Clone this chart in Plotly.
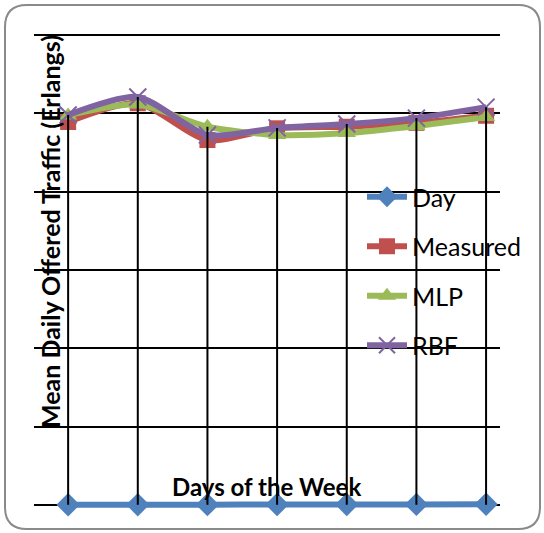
import plotly.graph_objects as go

# Mean daily offered traffic (Erlangs) per day of the week
days = [1, 2, 3, 4, 5, 6, 7]
day_series = [1, 2, 3, 4, 5, 6, 7]
measured = [4890, 5130, 4660, 4810, 4830, 4880, 4970]
mlp = [4975, 5115, 4830, 4725, 4750, 4840, 4955]
rbf = [4980, 5210, 4725, 4815, 4865, 4940, 5080]

W, H = 544, 533
L, R, T, B = 34, 44, 32, 25
pw, ph = W - L - R, H - T - B


def px(x):
    return (x - L) / pw


def py(y):
    return (H - B - y) / ph


fig = go.Figure()

series = [
    ("Day", day_series, "#4F81BD", dict(symbol="diamond", size=18)),
    ("Measured", measured, "#C0504D", dict(symbol="square", size=16)),
    ("MLP", mlp, "#9BBB59", dict(symbol="triangle-up", size=16)),
    ("RBF", rbf, "#8064A2", dict(symbol="x-thin-open", size=17, line=dict(width=2, color="#8064A2"))),
]

for name, vals, color, mk in series:
    fig.add_trace(go.Scatter(
        x=days, y=vals, name=name, mode="lines+markers",
        line=dict(color=color, width=6, shape="spline", smoothing=0.7),
        marker=dict(color=color, **mk),
        legendgroup=name, cliponaxis=False,
    ))

# drop lines from the highest series down to the axis
tops = [max(v) for v in zip(day_series, measured, mlp, rbf)]
dx, dy = [], []
for d, t in zip(days, tops):
    dx += [d, d, None]
    dy += [0, t, None]
fig.add_trace(go.Scatter(x=dx, y=dy, mode="lines", line=dict(color="black", width=2),
                         showlegend=False, hoverinfo="skip", cliponaxis=False))

# rounded chart border
x0, y0, x1, y1, r = 5, 5, 540, 529, 22
path = (
    f"M {px(x0 + r)},{py(y0)} L {px(x1 - r)},{py(y0)} "
    f"Q {px(x1)},{py(y0)} {px(x1)},{py(y0 + r)} "
    f"L {px(x1)},{py(y1 - r)} Q {px(x1)},{py(y1)} {px(x1 - r)},{py(y1)} "
    f"L {px(x0 + r)},{py(y1)} Q {px(x0)},{py(y1)} {px(x0)},{py(y1 - r)} "
    f"L {px(x0)},{py(y0 + r)} Q {px(x0)},{py(y0)} {px(x0 + r)},{py(y0)} Z"
)
fig.add_shape(type="path", path=path, xref="paper", yref="paper",
              line=dict(color="#8a8a8a", width=2), layer="below")

fig.add_annotation(text="<b>Mean Daily Offered Traffic (Erlangs)</b>", textangle=-90,
                   x=px(50), y=py(232), xref="paper", yref="paper", showarrow=False,
                   xanchor="center", yanchor="middle",
                   font=dict(family="Lato", size=25, color="black"))
fig.add_annotation(text="<b>Days of the Week</b>",
                   x=px(266), y=py(486), xref="paper", yref="paper", showarrow=False,
                   xanchor="center", yanchor="middle",
                   font=dict(family="Lato", size=24, color="black"))

fig.update_layout(
    width=W, height=H,
    margin=dict(l=L, r=R, t=T, b=B),
    paper_bgcolor="white", plot_bgcolor="white",
    font=dict(family="Lato", color="black"),
    legend=dict(x=px(362), y=py(174), xanchor="left", yanchor="top",
                bgcolor="rgba(0,0,0,0)", font=dict(size=25), tracegroupgap=14,
                itemwidth=40),
    xaxis=dict(range=[0.51, 7.2], showgrid=False, showticklabels=False,
               zeroline=False, ticks="", showline=False),
    yaxis=dict(range=[-40, 6040], tickvals=[0, 1000, 2000, 3000, 4000, 5000, 6000],
               showgrid=True, gridcolor="black",
               gridwidth=2, showticklabels=False, zeroline=False, ticks="", showline=False),
)

fig.write_html("out.html")
